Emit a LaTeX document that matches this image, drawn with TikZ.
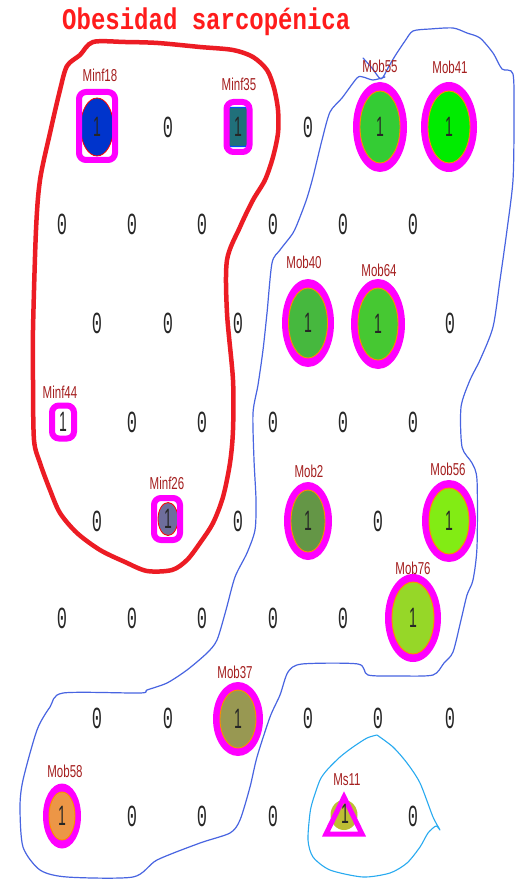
\documentclass[tikz,border=0pt]{standalone}
\usepackage{fontspec}
\usepackage{graphicx}
\setmainfont{Liberation Sans}
\newfontfamily\monofam{Liberation Mono}
\usetikzlibrary{shapes.geometric}

\definecolor{ringmag}{RGB}{255,0,255}
\definecolor{rimorange}{RGB}{255,140,0}
\definecolor{labelred}{RGB}{165,32,32}
\definecolor{titlered}{RGB}{255,28,28}
\definecolor{hullred}{RGB}{236,28,36}
\definecolor{hullblue}{RGB}{72,100,225}
\definecolor{hullcyan}{RGB}{40,170,240}
\definecolor{cMobA}{RGB}{52,204,52}
\definecolor{cMobB}{RGB}{0,236,0}
\definecolor{cMobC}{RGB}{70,184,62}
\definecolor{cMobD}{RGB}{70,200,50}
\definecolor{cMobE}{RGB}{100,150,70}
\definecolor{cMobF}{RGB}{130,236,20}
\definecolor{cMobG}{RGB}{150,215,40}
\definecolor{cMobH}{RGB}{152,152,82}
\definecolor{cMobI}{RGB}{236,150,70}
\definecolor{cMinfA}{RGB}{0,52,204}
\definecolor{cMinfB}{RGB}{32,112,122}
\definecolor{cMinfD}{RGB}{110,110,156}
\definecolor{cMs}{RGB}{190,190,52}

\newcommand{\vstretch}[2]{\scalebox{1}[#1]{#2}}

\tikzset{
  ring/.style={ellipse, fill=ringmag, draw=none, inner sep=0pt},
  disc/.style={ellipse, draw=rimorange, line width=0.9pt, inner sep=0pt,
    font=\fontsize{14}{14}\selectfont, text=black!85},
  sqbox/.style={rectangle, draw=ringmag, line width=6pt, rounded corners=7pt, inner sep=0pt},
  tag/.style={inner sep=0pt, text=labelred, font=\fontsize{11.5}{11.5}\selectfont},
  zerolbl/.style={inner sep=0pt, font=\monofam\fontsize{17}{17}\selectfont, text=black!85},
  onelbl/.style={inner sep=0pt, font=\fontsize{14}{14}\selectfont, text=black!85},
  hull/.style={line join=round, line cap=round},
}

% ring symbol: name, x, y, outer w, outer h, inner w, inner h, colour
\newcommand{\ringsym}[8]{%
  \node[ring, minimum width=#4pt, minimum height=#5pt] (#1) at (#2,#3) {};
  \node[disc, fill=#8, minimum width=#6pt, minimum height=#7pt] (#1-in) at (#2,#3) {\vstretch{2}{1}};
}
% grid zero with its centre dot
\newcommand{\gridzero}[3]{%
  \node[zerolbl] (#1) at (#2,#3) {\vstretch{1.8}{0}};
  \fill[black!85] (#1.center) circle (0.7pt);
}

\begin{document}
\begin{tikzpicture}[x=1pt, y=-1pt]
\useasboundingbox (0,0) rectangle (515,882);
\fill[white] (0,0) rectangle (515,882);

% ---- cluster outlines ----
\draw[hull, hullblue, line width=1.2pt] plot[smooth, tension=0.45] coordinates {
 (363,58) (372,68) (381,79) (388,68) (395,56) (405,41) (413,31) (430,29) (453,28)
 (467,33) (480,38) (493,53) (502,69) (513,74) (514,120) (513,180) (507,230) (500,280)
 (493,327) (480,360) (470,380) (461,407) (462,447) (472,463) (477,480) (477,547)
 (473,580) (467,595) (461,620) (453,652) (444,663) (433,675) (400,676) (368,675)
 (358,664) (302,664) (288,672) (280,695) (270,717) (257,757) (250,787) (240,820)
 (230,833) (200,843) (157,860) (133,877) (67,877) (40,870) (23,847) (20,807)
 (23,780) (37,730) (50,707) (63,693) (140,693) (147,690) (167,683) (187,670)
 (207,653) (217,640) (226,610) (235,577) (247,553) (255,530) (256,500) (254,460)
 (253,413) (258,385) (263,350) (267,313) (272,263) (280,250) (293,233) (300,217)
 (307,198) (313,177) (322,140) (330,112) (342,98) (357,78) (363,77) (373,80) (385,77)};

\draw[hull, hullcyan, line width=1.1pt] plot[smooth, tension=0.45] coordinates {
 (377,735) (393,747) (407,763) (420,783) (433,817) (440,830) (436,826) (428,833)
 (420,847) (407,863) (390,873) (363,877) (330,870) (313,857) (308,840) (310,813)
 (313,800) (320,780) (327,770) (340,757) (353,747) (367,738) (377,735)};

\draw[hull, hullred, line width=4.5pt] plot[smooth cycle, tension=0.5] coordinates {
 (93,42) (125,42) (158,43) (200,47) (233,50) (253,57) (267,70) (274,88) (278,110)
 (278,133) (273,157) (265,180) (253,200) (240,227) (227,260) (227,313) (233,380)
 (233,430) (230,463) (223,497) (213,523) (200,543) (187,560) (172,570) (147,571)
 (125,562) (100,550) (77,533) (60,513) (50,490) (40,463) (34,440) (33,380) (33,330)
 (36,230) (40,180) (50,133) (60,90) (67,66) (80,55)};

% ---- title ----
\node[anchor=base west, inner sep=0pt, text=titlered,
      font=\monofam\bfseries\fontsize{24}{24}\selectfont] (title) at (62,30)
      {\vstretch{1.25}{Obesidad sarcopénica}};

% ---- empty grid cells ----
\gridzero{z11}{168}{127} \gridzero{z13}{308}{127}
\gridzero{z21}{62}{224} \gridzero{z22}{132}{224} \gridzero{z23}{202}{224}
\gridzero{z24}{273}{224} \gridzero{z25}{343}{224} \gridzero{z26}{413}{224}
\gridzero{z31}{97}{323} \gridzero{z32}{168}{323} \gridzero{z33}{238}{323} \gridzero{z36}{450}{323}
\gridzero{z42}{132}{422} \gridzero{z43}{202}{422} \gridzero{z44}{273}{422}
\gridzero{z45}{343}{422} \gridzero{z46}{413}{422}
\gridzero{z51}{97}{521} \gridzero{z53}{238}{521} \gridzero{z55}{378}{521}
\gridzero{z61}{62}{618} \gridzero{z62}{132}{618} \gridzero{z63}{202}{618}
\gridzero{z64}{273}{618} \gridzero{z65}{343}{618}
\gridzero{z71}{97}{718} \gridzero{z72}{168}{718} \gridzero{z74}{308}{718}
\gridzero{z75}{378}{718} \gridzero{z76}{450}{718}
\gridzero{z82}{132}{816} \gridzero{z83}{202}{816} \gridzero{z84}{273}{816} \gridzero{z86}{413}{816}

% ---- Mob units ----
\ringsym{Mob55}{380}{127}{54}{90}{40}{72}{cMobA}
\ringsym{Mob41}{449}{127}{56}{90}{42}{72}{cMobB}
\ringsym{Mob40}{308}{323}{52}{88}{39}{70}{cMobC}
\ringsym{Mob64}{378}{324}{54}{90}{40}{72}{cMobD}
\ringsym{Mob2}{308}{521}{48}{78}{34}{62}{cMobE}
\ringsym{Mob56}{449}{521}{54}{82}{40}{66}{cMobF}
\ringsym{Mob76}{413}{618}{56}{88}{42}{72}{cMobG}
\ringsym{Mob37}{238}{719}{50}{74}{36}{58}{cMobH}
\ringsym{Mob58}{62}{816}{38}{65}{26}{48}{cMobI}

% ---- Minf units ----
\node[ellipse, fill=cMinfA, draw=red, line width=0.8pt, minimum width=33pt,
      minimum height=58pt, inner sep=0pt] (Minf18-in) at (97,127) {};
\node[sqbox, minimum width=36pt, minimum height=68pt] (Minf18) at (97,126) {};
\node[onelbl] (Minf18-one) at (97,127) {\vstretch{2}{1}};

\node[rectangle, rounded corners=3pt, fill=cMinfB, draw=blue!70!cyan, line width=1.2pt,
      minimum width=20pt, minimum height=39pt, inner sep=0pt] (Minf35-in) at (238,127) {};
\node[sqbox, minimum width=23pt, minimum height=50pt] (Minf35) at (238,127) {};
\node[onelbl] (Minf35-one) at (238,127) {\vstretch{2}{1}};

\node[sqbox, minimum width=22pt, minimum height=33pt] (Minf44) at (63,422) {};
\node[onelbl] (Minf44-one) at (63,422) {\vstretch{2}{1}};

\node[ellipse, fill=cMinfD, draw=red, line width=0.8pt, minimum width=20pt,
      minimum height=33pt, inner sep=0pt] (Minf26-in) at (168,519) {};
\node[sqbox, minimum width=26pt, minimum height=42pt] (Minf26) at (167,519) {};
\node[onelbl] (Minf26-one) at (168,519) {\vstretch{2}{1}};

% ---- Ms unit: disc under a triangular outline ----
\node[ellipse, fill=cMs, minimum width=27pt, minimum height=30pt, inner sep=0pt] (Ms11) at (344,815) {};
\draw[ringmag, line width=5pt, line join=miter]
  ([yshift=18pt]Ms11.center) -- ([xshift=18pt,yshift=-19pt]Ms11.center)
  -- ([xshift=-18pt,yshift=-19pt]Ms11.center) -- cycle;
\node[onelbl] (Ms11-one) at (345,814) {\vstretch{2}{1}};

% ---- unit names ----
\node[tag] (Minf18-lbl) at (100,75) {\vstretch{1.5}{Minf18}};
\node[tag] (Minf35-lbl) at (239,84) {\vstretch{1.5}{Minf35}};
\node[tag] (Mob55-lbl) at (380,66) {\vstretch{1.5}{Mob55}};
\node[tag] (Mob41-lbl) at (450,67) {\vstretch{1.5}{Mob41}};
\node[tag] (Mob40-lbl) at (304,262) {\vstretch{1.5}{Mob40}};
\node[tag] (Mob64-lbl) at (379,270) {\vstretch{1.5}{Mob64}};
\node[tag] (Minf44-lbl) at (60,392) {\vstretch{1.5}{Minf44}};
\node[tag] (Minf26-lbl) at (167,483) {\vstretch{1.5}{Minf26}};
\node[tag] (Mob2-lbl) at (309,471) {\vstretch{1.5}{Mob2}};
\node[tag] (Mob56-lbl) at (448,469) {\vstretch{1.5}{Mob56}};
\node[tag] (Mob76-lbl) at (413,568) {\vstretch{1.5}{Mob76}};
\node[tag] (Mob37-lbl) at (235,672) {\vstretch{1.5}{Mob37}};
\node[tag] (Mob58-lbl) at (65,771) {\vstretch{1.5}{Mob58}};
\node[tag] (Ms11-lbl) at (347,780) {\vstretch{1.5}{Ms11}};
\end{tikzpicture}
\end{document}
